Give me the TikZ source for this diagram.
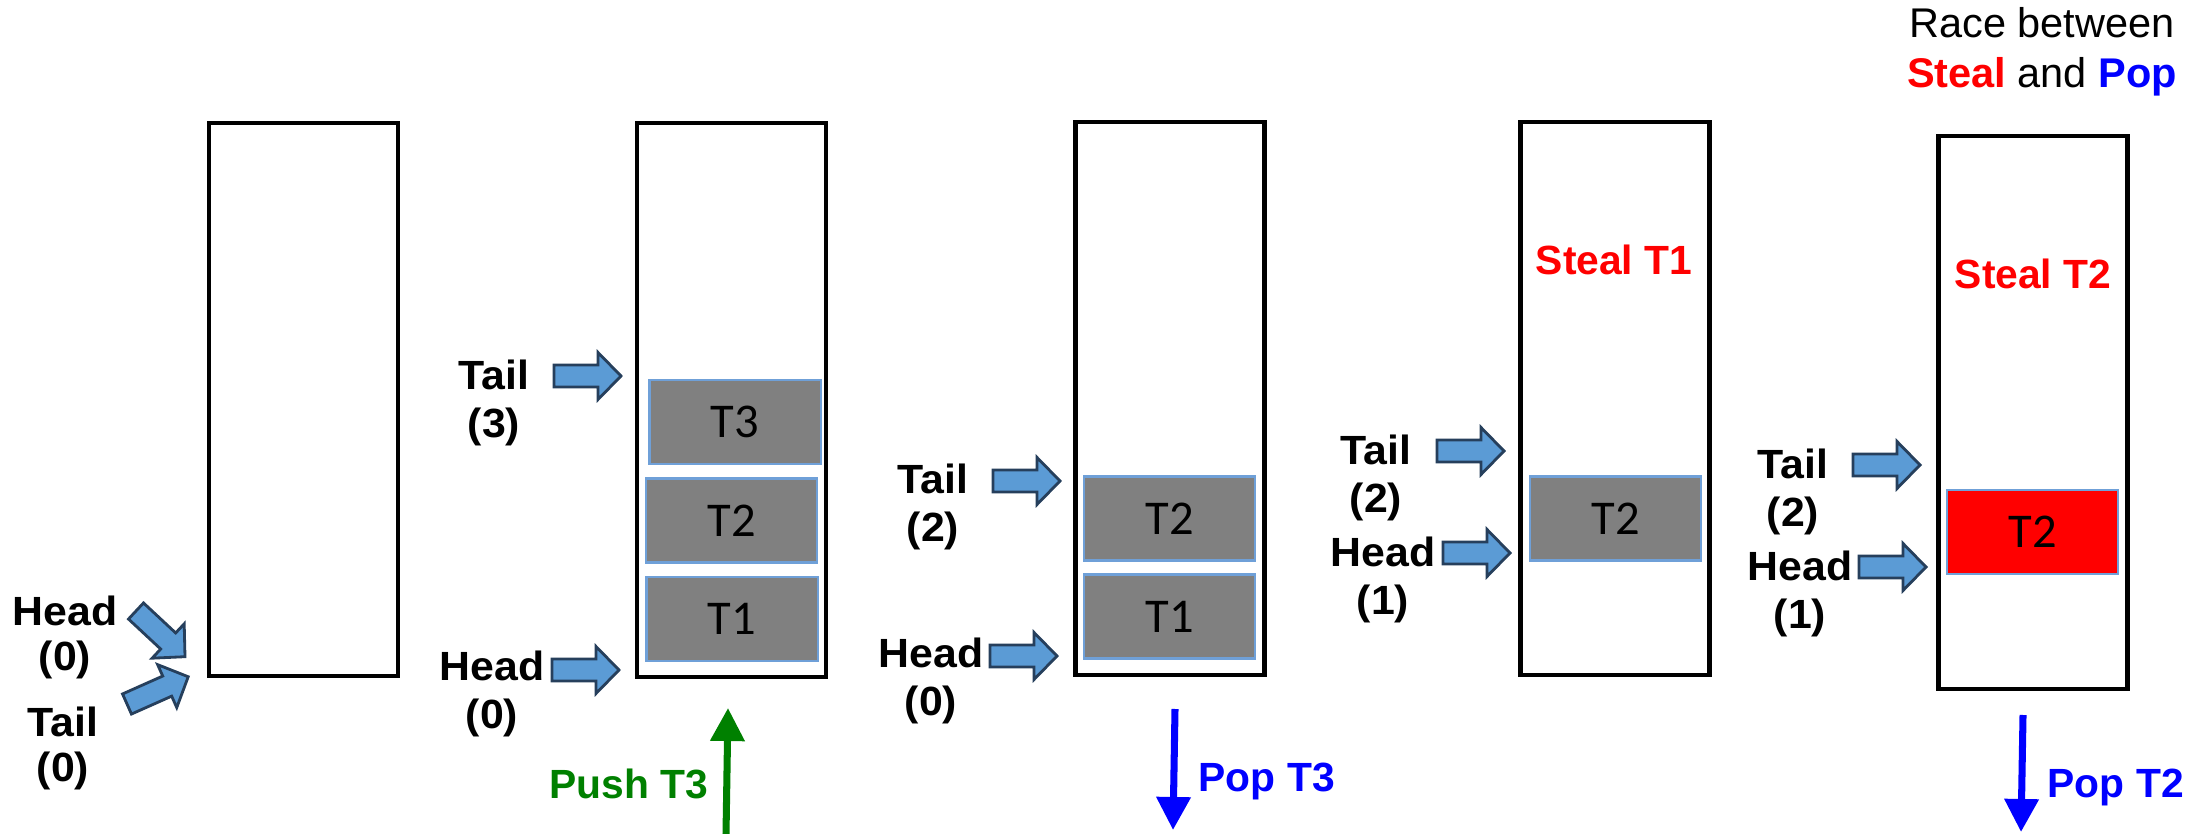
\documentclass[tikz,border=0pt]{standalone}
\usepackage{fontspec}
\setmainfont{Liberation Sans}
\newfontfamily\taskfont{Carlito}
\newfontfamily\ptrfont[FakeStretch=1.05]{Liberation Sans}
\usetikzlibrary{arrows.meta}
\definecolor{arrowfill}{HTML}{5B9BD5}
\definecolor{arrowedge}{HTML}{263F5C}
\definecolor{taskgray}{HTML}{808080}
\definecolor{taskedge}{HTML}{6FA0D8}
\definecolor{stealred}{HTML}{FF0000}
\definecolor{popblue}{HTML}{0000FF}
\definecolor{pushgreen}{HTML}{008000}

\begin{document}
\begin{tikzpicture}[x=0.01cm,y=-0.01cm,
  dequebox/.style={draw=black, line width=1.2pt, minimum width=1.89cm, minimum height=5.53cm, inner sep=0pt},
  taskbox/.style={fill=taskgray, draw=taskedge, line width=0.6pt, minimum width=1.71cm, minimum height=0.84cm, inner sep=0pt, font=\taskfont\fontsize{13.8}{15}\selectfont},
  ptr/.style={font=\ptrfont\bfseries\fontsize{11.6}{13.8}\selectfont, align=center, inner sep=0pt},
  optext/.style={font=\bfseries\fontsize{11.6}{14}\selectfont, inner sep=0pt},
  moveline/.style={line width=2pt, -{Triangle[width=0.33cm,length=0.33cm]}},
  blockarrow/.pic={
    \draw[fill=arrowfill, draw=arrowedge, line width=0.8pt]
      (0,-11) -- (44,-11) -- (44,-23.5) -- (67,0) -- (44,23.5) -- (44,11) -- (0,11) -- cycle;
  }
]
\useasboundingbox (0,0) rectangle (2201,834);

% the five snapshots of the deque
\node[dequebox] (b1) at (303.5,399.5) {};
\node[dequebox] (b2) at (731.5,400) {};
\node[dequebox] (b3) at (1170,398.5) {};
\node[dequebox] (b4) at (1615,398.5) {};
\node[dequebox] (b5) at (2033,412.5) {};

% tasks held in the deque
\node[taskbox] (b2t3) at (735,422) {T3};
\node[taskbox] (b2t2) at (731.5,520.5) {T2};
\node[taskbox] (b2t1) at (732,619) {T1};
\node[taskbox] (b3t2) at (1169.5,518.5) {T2};
\node[taskbox] (b3t1) at (1169.5,616.5) {T1};
\node[taskbox] (b4t2) at (1615.5,518.5) {T2};
\node[taskbox, fill=stealred] (b5t2) at (2032.5,532) {T2};

% head / tail labels
\node[ptr, font=\ptrfont\bfseries\fontsize{11.6}{12.8}\selectfont] (h1) at (65,637) {Head\\(0)};
\node[ptr, font=\ptrfont\bfseries\fontsize{11.6}{12.8}\selectfont] (t1) at (63,748) {Tail\\(0)};
\node[ptr] (t2) at (494,403) {Tail\\(3)};
\node[ptr] (h2) at (492,694) {Head\\(0)};
\node[ptr] (t3) at (933,507) {Tail\\(2)};
\node[ptr] (h3) at (931,681) {Head\\(0)};
\node[ptr] (t4) at (1376,478) {Tail\\(2)};
\node[ptr] (h4) at (1383,580) {Head\\(1)};
\node[ptr] (t5) at (1793,492) {Tail\\(2)};
\node[ptr] (h5) at (1800,594) {Head\\(1)};

% head / tail pointers
\pic[rotate=-43] at (136,611) {blockarrow};
\pic[rotate=24] at (127,704) {blockarrow};
\pic at (554,376) {blockarrow};
\pic at (552,670) {blockarrow};
\pic at (993,481) {blockarrow};
\pic at (990,656) {blockarrow};
\pic at (1437,451) {blockarrow};
\pic at (1443,553) {blockarrow};
\pic at (1853,465) {blockarrow};
\pic at (1859,567) {blockarrow};

% operations
\coordinate (push2s) at (726,834);
\coordinate (push2e) at (728,708);
\draw[moveline, pushgreen] (push2s) -- (push2e);
\node[optext, text=pushgreen] (push2) at (629,784) {Push T3};

\coordinate (pop3s) at (1175,709);
\coordinate (pop3e) at (1173,830);
\draw[moveline, popblue] (pop3s) -- (pop3e);
\node[optext, text=popblue, anchor=west] (pop3) at (1198,781) {Pop T3};

\coordinate (pop5s) at (2023,715);
\coordinate (pop5e) at (2021,832);
\draw[moveline, popblue] (pop5s) -- (pop5e);
\node[optext, text=popblue, anchor=west] (pop5) at (2047,787) {Pop T2};

\node[optext, text=stealred] (steal4) at (1614,260) {Steal T1};
\node[optext, text=stealred] (steal5) at (2033,274) {Steal T2};

\node[align=center, inner sep=0pt, font=\fontsize{11.8}{14.2}\selectfont] (race) at (2042,52)
  {Race between\\{\color{stealred}\bfseries Steal} and {\color{popblue}\bfseries Pop}};
\end{tikzpicture}
\end{document}
